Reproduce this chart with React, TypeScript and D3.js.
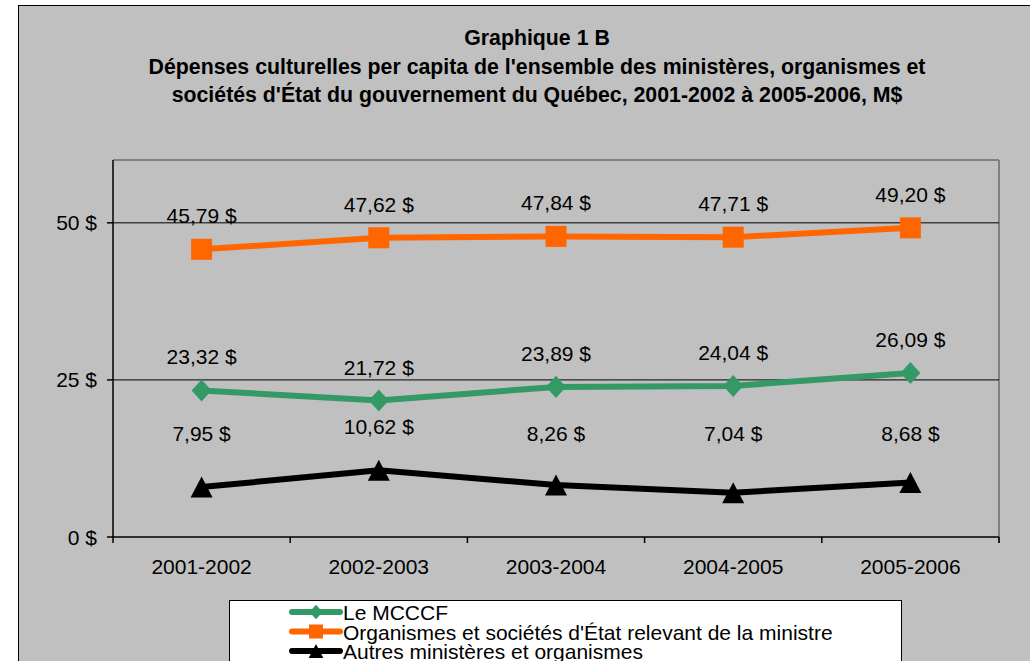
import React from "react";
import * as d3 from "d3";

const categories = ["2001-2002", "2002-2003", "2003-2004", "2004-2005", "2005-2006"];
const mcccf = [23.32, 21.72, 23.89, 24.04, 26.09];
const organismes = [45.79, 47.62, 47.84, 47.71, 49.2];
const autres = [7.95, 10.62, 8.26, 7.04, 8.68];
const yTicks = [0, 25, 50];
const yTickLabels = ["0 $", "25 $", "50 $"];
const titleLines = [
  "Graphique 1 B",
  "Dépenses culturelles per capita de l'ensemble des ministères, organismes et",
  "sociétés d'État du gouvernement du Québec, 2001-2002 à 2005-2006, M$",
];
const legendLabels = [
  "Le MCCCF",
  "Organismes et sociétés d'État relevant de la ministre",
  "Autres ministères et organismes",
];

const FONT = "'Liberation Sans', Arial, Helvetica, sans-serif";
const W = 1030;
const H = 661;
const plot = { left: 113, right: 999, top: 160, bottom: 537 };

const fmt = (v: number) => d3.format(".2f")(v).replace(".", ",") + " $";

type Series = { name: string; values: number[]; color: string; marker: "diamond" | "square" | "triangle" };

const series: Series[] = [
  { name: legendLabels[0], values: mcccf, color: "#339966", marker: "diamond" },
  { name: legendLabels[1], values: organismes, color: "#FF6600", marker: "square" },
  { name: legendLabels[2], values: autres, color: "#000000", marker: "triangle" },
];

function Marker({ kind, x, y, size, color }: { kind: string; x: number; y: number; size: number; color: string }) {
  const h = size / 2;
  if (kind === "square") return <rect x={x - h} y={y - h} width={size} height={size} fill={color} />;
  if (kind === "diamond")
    return <path d={`M${x},${y - h * 1.05} L${x + h * 0.95},${y} L${x},${y + h * 1.05} L${x - h * 0.95},${y} Z`} fill={color} />;
  return <path d={`M${x},${y - h} L${x + h * 1.05},${y + h} L${x - h * 1.05},${y + h} Z`} fill={color} />;
}

export default function App() {
  const x = d3.scaleBand<string>().domain(categories).range([plot.left, plot.right]).padding(0);
  const y = d3.scaleLinear().domain([0, 60]).range([plot.bottom, plot.top]);
  const cx = (c: string) => (x(c) as number) + x.bandwidth() / 2;
  const line = d3
    .line<number>()
    .x((_, i) => cx(categories[i]))
    .y((v) => y(v));
  const boundaries = categories.map((c) => x(c) as number).concat([plot.right]);

  return (
    <svg
      width={W}
      height={H}
      style={{ position: "absolute", left: 0, top: 0, background: "#ffffff" }}
      fontFamily={FONT}
    >
      <rect x={18.5} y={5.5} width={W + 20} height={H + 20} fill="#c0c0c0" stroke="#000" strokeWidth={1} />

      {titleLines.map((t, i) => (
        <text key={i} x={537} y={45 + i * 28.5} textAnchor="middle" fontWeight="bold" fontSize={21.3} fill="#000">
          {t}
        </text>
      ))}

      {/* plot frame */}
      <line x1={plot.left} x2={plot.right} y1={plot.top} y2={plot.top} stroke="#808080" strokeWidth={2} />
      <line x1={plot.right} x2={plot.right} y1={plot.top} y2={plot.bottom + 6} stroke="#808080" strokeWidth={2} />

      {/* gridlines */}
      {yTicks
        .filter((t) => t > 0)
        .map((t) => (
          <line key={t} x1={plot.left} x2={plot.right} y1={y(t)} y2={y(t)} stroke="#000" strokeWidth={1} />
        ))}

      {/* axes */}
      <line x1={plot.left} x2={plot.left} y1={plot.top} y2={plot.bottom} stroke="#000" strokeWidth={1.5} />
      <line x1={plot.left} x2={plot.right} y1={plot.bottom} y2={plot.bottom} stroke="#000" strokeWidth={1.5} />
      {yTicks.map((t, i) => (
        <g key={t}>
          <line x1={plot.left - 6} x2={plot.left} y1={y(t)} y2={y(t)} stroke="#000" strokeWidth={1.5} />
          <text x={97} y={y(t) + 7.5} textAnchor="end" fontSize={21} fill="#000">
            {yTickLabels[i]}
          </text>
        </g>
      ))}
      {boundaries.map((b, i) => (
        <line key={i} x1={b} x2={b} y1={plot.bottom} y2={plot.bottom + 6} stroke="#000" strokeWidth={1.5} />
      ))}
      {categories.map((c) => (
        <text key={c} x={cx(c)} y={574} textAnchor="middle" fontSize={21} fill="#000">
          {c}
        </text>
      ))}

      {/* series */}
      {series.map((s) => (
        <g key={s.name}>
          <path d={line(s.values) || ""} fill="none" stroke={s.color} strokeWidth={6} strokeLinejoin="round" />
          {s.values.map((v, i) => (
            <Marker key={i} kind={s.marker} x={cx(categories[i])} y={y(v)} size={21} color={s.color} />
          ))}
          {s.values.map((v, i) => (
            <text
              key={"l" + i}
              x={cx(categories[i])}
              y={s.marker === "triangle" ? Math.min(y(v) - 36, 441) : y(v) - 26}
              textAnchor="middle"
              fontSize={21}
              fill="#000"
            >
              {fmt(v)}
            </text>
          ))}
        </g>
      ))}

      {/* legend */}
      <rect x={229.5} y={600.5} width={672} height={80} fill="#ffffff" stroke="#000" strokeWidth={1} />
      {series.map((s, i) => {
        const ly = 612 + i * 19.5;
        return (
          <g key={"lg" + i}>
            <line x1={292} x2={340} y1={ly} y2={ly} stroke={s.color} strokeWidth={6} strokeLinecap="round" />
            <Marker kind={s.marker} x={316} y={ly} size={14} color={s.color} />
            <text x={343} y={ly + 8} fontSize={21} fill="#000">
              {s.name}
            </text>
          </g>
        );
      })}
    </svg>
  );
}
